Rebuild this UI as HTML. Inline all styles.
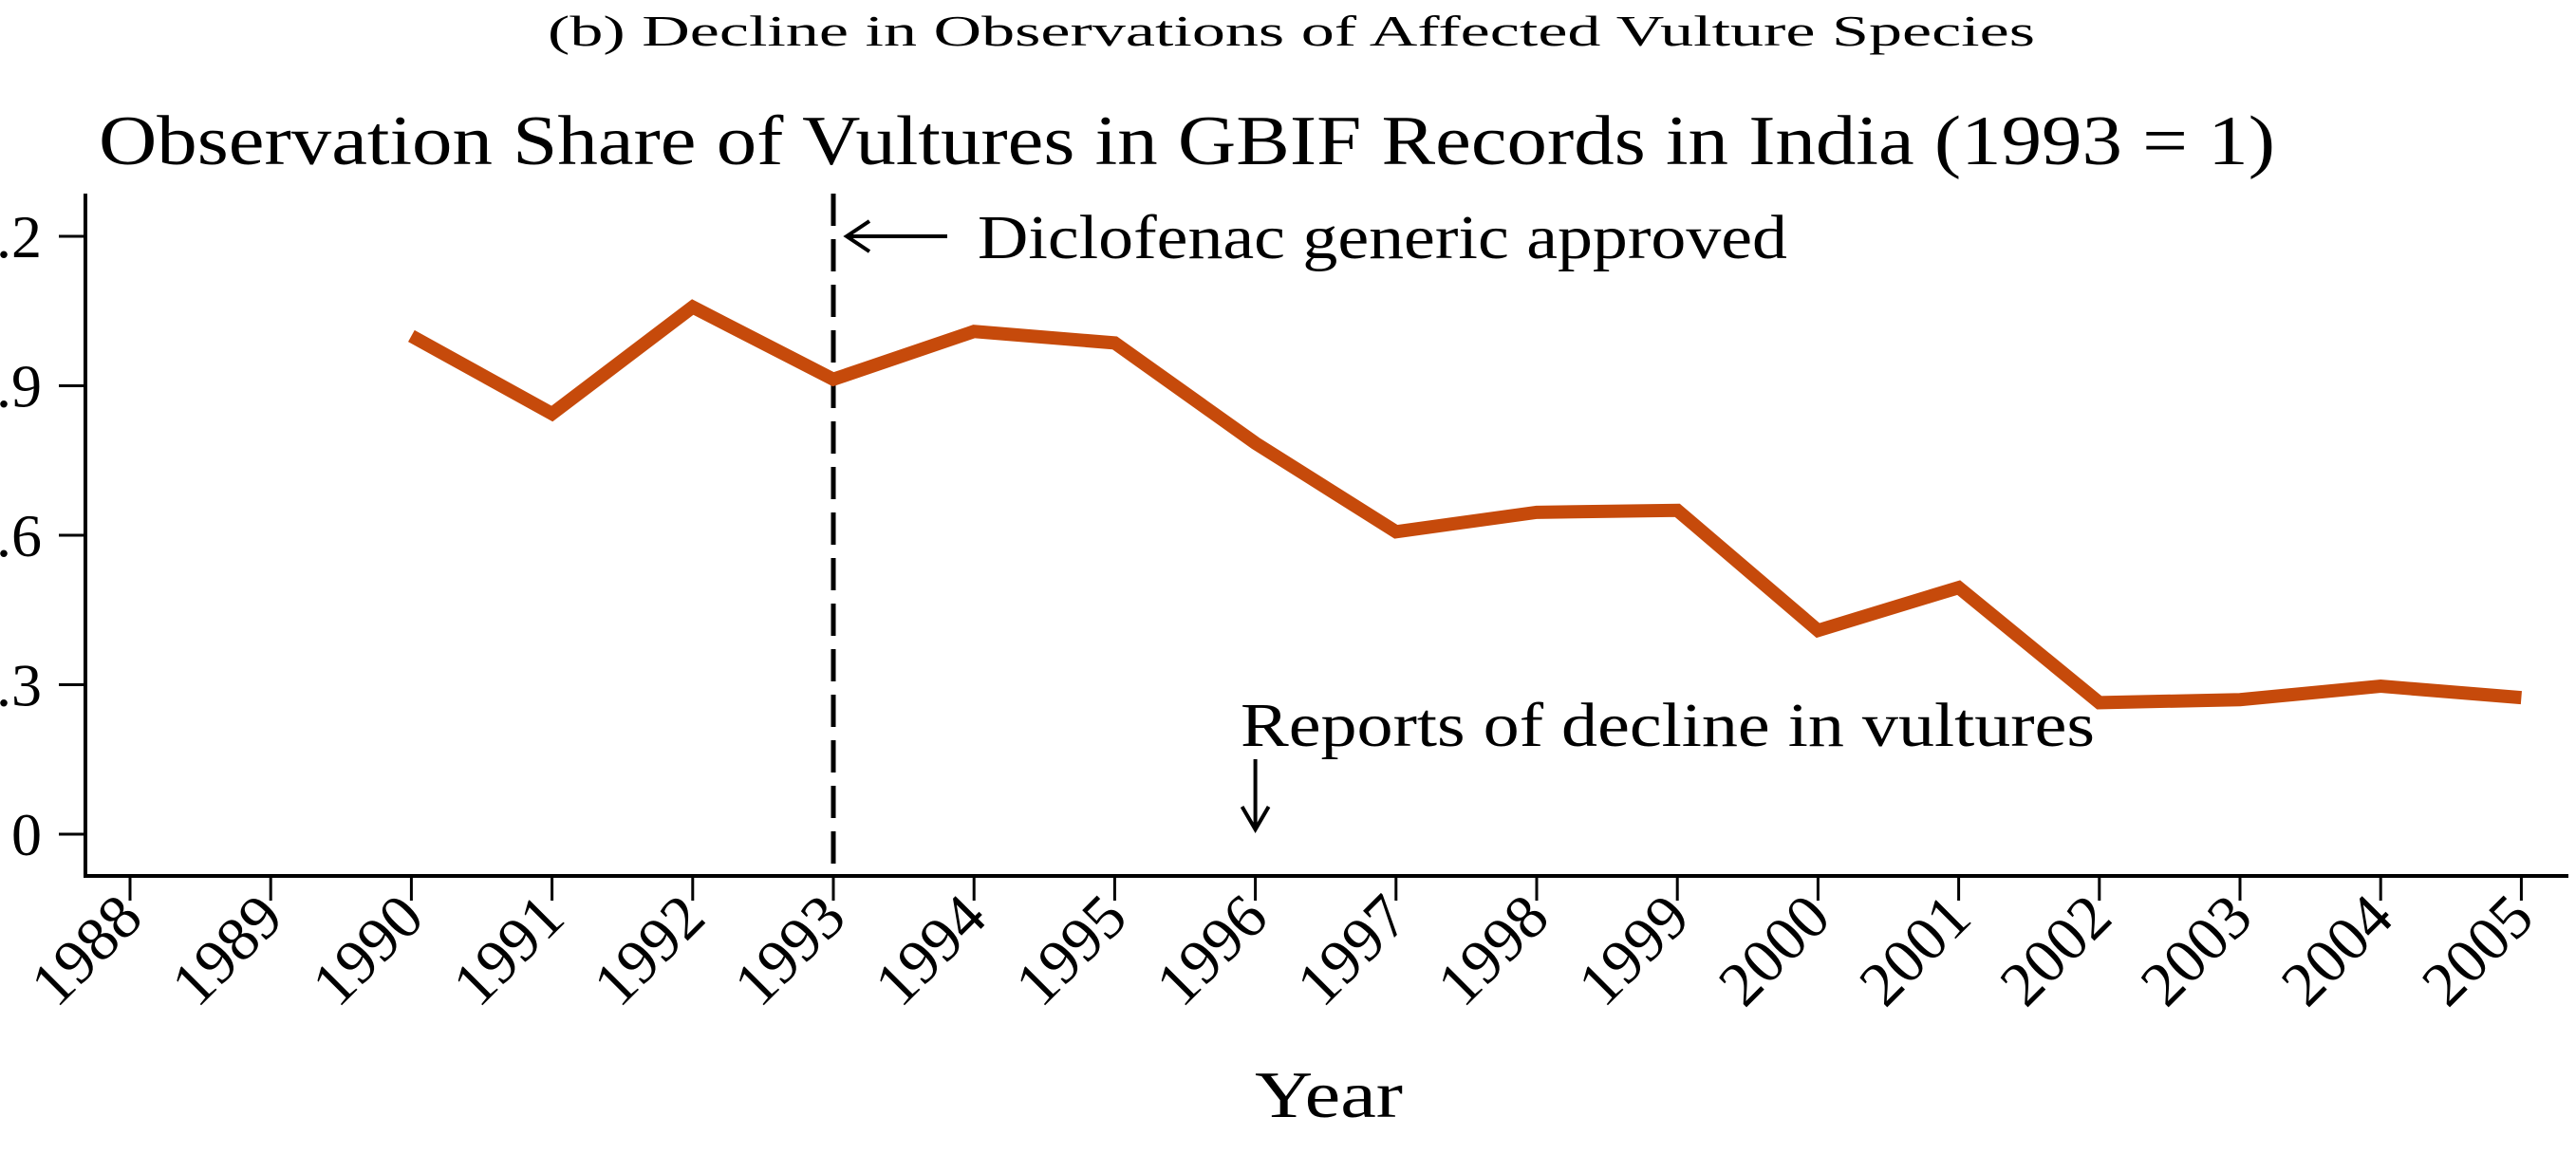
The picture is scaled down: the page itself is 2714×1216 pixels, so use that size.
<!DOCTYPE html>
<html><head><meta charset="utf-8"><style>
html,body{margin:0;padding:0;background:#fff;}
svg{display:block;font-family:"Liberation Serif",serif;}
</style></head><body>
<svg width="2714" height="1216" viewBox="0 0 2714 1216">
<text x="577" y="48" font-size="46" textLength="1567" lengthAdjust="spacingAndGlyphs">(b) Decline in Observations of Affected Vulture Species</text>
<text x="104" y="173" font-size="74" textLength="2293" lengthAdjust="spacingAndGlyphs">Observation Share of Vultures in GBIF Records in India (1993 = 1)</text>
<g id="axes"></g>
<g id="marks"></g>
<text x="1322" y="1177" font-size="70" textLength="156" lengthAdjust="spacingAndGlyphs">Year</text>
</svg>
<script>
const years=[1990,1991,1992,1993,1994,1995,1996,1997,1998,1999,2000,2001,2002,2003,2004,2005];
const shares=[1.0,0.844,1.058,0.913,1.009,0.986,0.785,0.607,0.646,0.650,0.409,0.495,0.264,0.270,0.297,0.274];
const xTicks=[1988,1989,1990,1991,1992,1993,1994,1995,1996,1997,1998,1999,2000,2001,2002,2003,2004,2005];
const yTicks=[0,0.3,0.6,0.9,1.2];
const yTickLabels=["0",".3",".6",".9",".2"];
const approvalYear=1993, reportYear=1996;

const NS="http://www.w3.org/2000/svg";
const X=y=>137+(y-1988)*148.2;
const Y=v=>879-v*525;
const axes=document.getElementById('axes'), marks=document.getElementById('marks');
function mk(tag,attrs,parent,txt){const e=document.createElementNS(NS,tag);for(const k in attrs)e.setAttribute(k,attrs[k]);if(txt!==undefined)e.textContent=txt;parent.appendChild(e);return e;}

let e=mk('line',{x1:90,y1:204,x2:90,y2:925,stroke:'#000','stroke-width':4},axes);


e=mk('line',{x1:88,y1:923,x2:2706,y2:923,stroke:'#000','stroke-width':4},axes);



yTicks.forEach((v,i)=>{
  let t=mk('line',{x1:62,y1:Y(v),x2:90,y2:Y(v),stroke:'#000','stroke-width':3},axes);
  
  
  let l=mk('text',{x:44,y:Y(v)+22,'font-size':64,'text-anchor':'end'},axes,yTickLabels[i]);
  
  
});
xTicks.forEach(yr=>{
  const x=X(yr);
  let t=mk('line',{x1:x,y1:923,x2:x,y2:949,stroke:'#000','stroke-width':3},axes);
  
  
  let l=mk('text',{x:x+16,y:970,'font-size':66,'text-anchor':'end',transform:`rotate(-45 ${x+16} 970)`},axes,String(yr));
  
  
});

const dx=X(approvalYear);
e=mk('line',{x1:dx,y1:204,x2:dx,y2:923,stroke:'#000','stroke-width':5,'stroke-dasharray':'34,14'},marks);



const pts=years.map((y,i)=>X(y)+','+Y(shares[i])).join(' ');
e=mk('polyline',{points:pts,fill:'none',stroke:'#C64A0B','stroke-width':14,'stroke-linejoin':'miter','stroke-linecap':'butt'},marks);



e=mk('path',{d:`M998 249 L${dx+14} 249 M${dx+38} 233 L${dx+14} 249 L${dx+38} 265`,fill:'none',stroke:'#000','stroke-width':4},marks);


e=mk('text',{x:1030,y:272,'font-size':66,textLength:853,lengthAdjust:'spacingAndGlyphs'},marks,'Diclofenac generic approved');


const rx=X(reportYear);
e=mk('path',{d:`M${rx} 800 L${rx} 874 M${rx-14} 850 L${rx} 874 L${rx+14} 850`,fill:'none',stroke:'#000','stroke-width':4},marks);


e=mk('text',{x:1307,y:786,'font-size':66,textLength:900,lengthAdjust:'spacingAndGlyphs'},marks,'Reports of decline in vultures');


</script>
</body></html>
